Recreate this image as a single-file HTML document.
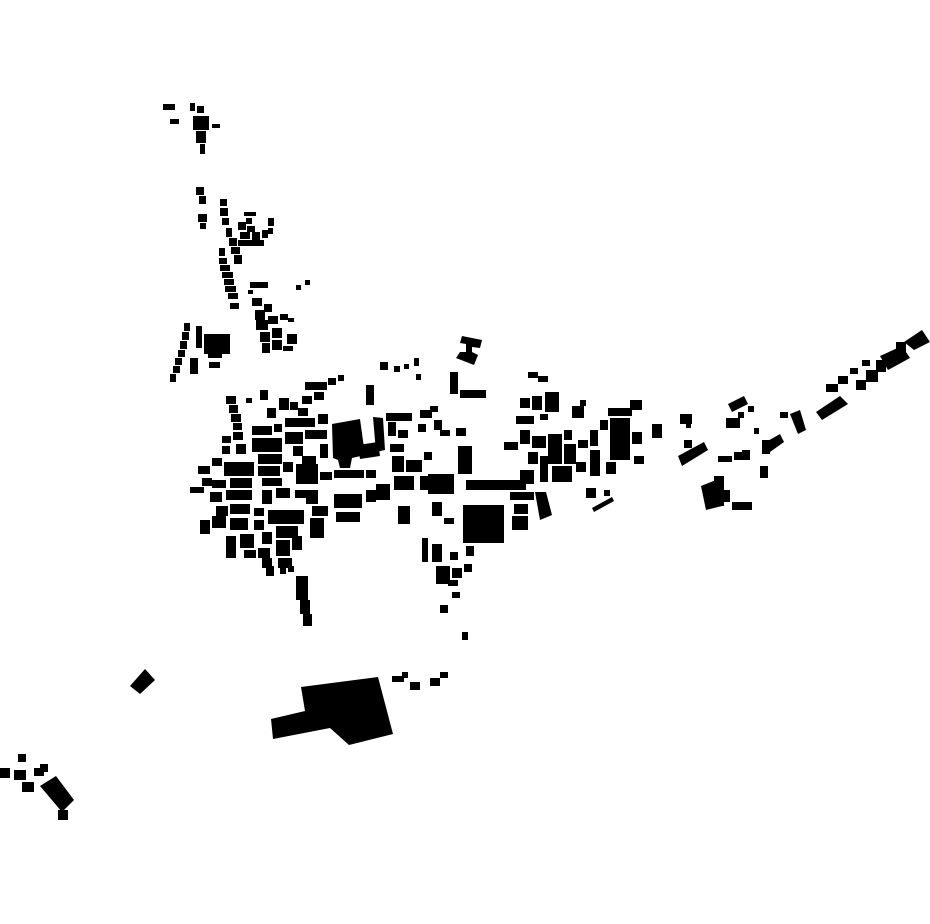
<!DOCTYPE html>
<html><head><meta charset="utf-8"><style>html,body{margin:0;padding:0;background:#fff}svg{display:block}</style></head>
<body>
<svg width="930" height="924" viewBox="0 0 930 924" xmlns="http://www.w3.org/2000/svg">
<g fill="#000">
<!-- big shapes -->
<polygon points="301,687 378,677 393,734 349,745 330,728 273,739 271,719 305,711"/>
<rect x="463" y="505" width="41" height="38"/>
<polygon points="332,424 360,419 365,455 352,458 350,468 340,468 338,460 333,458"/>
<polygon points="358,445 378,442 380,456 360,459"/>
<polygon points="373,417 383,418 385,450 376,452"/>
<polygon points="130,686 145,669 155,680 140,694"/>
<polygon points="701,486 716,480 722,506 706,510"/>
<polygon points="462,336 482,340 480,348 472,347 472,352 478,355 474,365 456,358 460,352 466,352 466,344 460,343"/>
<polygon points="535,492 546,492 552,515 540,520"/>
<polygon points="592,508 612,497 614,501 594,512"/>
<!-- north -->
<rect x="163" y="104" width="12" height="6"/><rect x="170" y="119" width="9" height="5"/>
<rect x="190" y="103" width="5" height="8"/><rect x="197" y="106" width="7" height="7"/>
<rect x="193" y="116" width="16" height="14"/><rect x="196" y="131" width="10" height="12"/>
<rect x="200" y="144" width="5" height="10"/><rect x="212" y="124" width="8" height="4"/>
<!-- north strip -->
<rect x="196" y="187" width="8" height="8"/><rect x="199" y="196" width="7" height="8"/>
<rect x="198" y="214" width="9" height="8"/><rect x="200" y="223" width="6" height="6"/>
<rect x="220" y="199" width="7" height="7"/><rect x="220" y="208" width="8" height="8"/>
<rect x="222" y="218" width="7" height="7"/><rect x="226" y="228" width="6" height="9"/>
<rect x="229" y="238" width="8" height="8"/><rect x="231" y="247" width="9" height="7"/>
<rect x="234" y="255" width="8" height="9"/><rect x="219" y="248" width="6" height="8"/>
<rect x="219" y="258" width="8" height="6"/><rect x="220" y="265" width="10" height="6"/>
<rect x="222" y="272" width="11" height="6"/><rect x="224" y="279" width="10" height="6"/>
<rect x="225" y="286" width="11" height="6"/><rect x="228" y="293" width="10" height="6"/>
<rect x="230" y="303" width="9" height="6"/>
<rect x="238" y="222" width="8" height="8"/><rect x="247" y="226" width="8" height="6"/>
<rect x="240" y="232" width="10" height="7"/><rect x="252" y="232" width="8" height="8"/>
<rect x="238" y="240" width="26" height="6"/><rect x="262" y="230" width="6" height="8"/>
<rect x="268" y="218" width="6" height="8"/><rect x="268" y="228" width="5" height="6"/>
<rect x="244" y="212" width="12" height="4"/><rect x="246" y="218" width="6" height="6"/>
<rect x="250" y="282" width="18" height="6"/><rect x="248" y="290" width="5" height="4"/>
<rect x="296" y="285" width="5" height="5"/><rect x="305" y="280" width="5" height="5"/>
<!-- mid north -->
<rect x="252" y="298" width="10" height="8"/><rect x="264" y="304" width="8" height="8"/>
<rect x="255" y="310" width="10" height="10"/><rect x="256" y="320" width="12" height="10"/>
<rect x="268" y="316" width="10" height="8"/><rect x="280" y="314" width="8" height="6"/>
<rect x="288" y="318" width="6" height="4"/><rect x="260" y="332" width="10" height="10"/>
<rect x="272" y="328" width="10" height="10"/><rect x="262" y="343" width="8" height="10"/>
<rect x="272" y="340" width="10" height="10"/><rect x="287" y="334" width="10" height="10"/>
<rect x="283" y="346" width="10" height="5"/>
<!-- left strip -->
<rect x="184" y="323" width="6" height="8"/><rect x="182" y="332" width="7" height="8"/>
<rect x="180" y="341" width="7" height="8"/><rect x="178" y="350" width="7" height="7"/>
<rect x="175" y="358" width="7" height="7"/><rect x="173" y="366" width="7" height="7"/>
<rect x="170" y="374" width="6" height="8"/><rect x="196" y="326" width="6" height="22"/>
<rect x="190" y="358" width="8" height="16"/><rect x="204" y="334" width="26" height="20"/>
<rect x="208" y="352" width="14" height="6"/><rect x="209" y="362" width="11" height="6"/>
<!-- central town grid -->
<g>
<rect x="226" y="396" width="10" height="8"/><rect x="229" y="405" width="9" height="8"/><rect x="231" y="414" width="10" height="8"/><rect x="233" y="423" width="9" height="7"/>
<rect x="260" y="390" width="8" height="10"/><rect x="246" y="398" width="6" height="5"/>
<rect x="267" y="408" width="9" height="10"/><rect x="279" y="398" width="10" height="12"/><rect x="290" y="402" width="8" height="8"/>
<rect x="305" y="382" width="22" height="8"/><rect x="328" y="378" width="8" height="7"/><rect x="338" y="375" width="6" height="6"/>
<rect x="302" y="396" width="10" height="8"/><rect x="314" y="392" width="10" height="8"/><rect x="298" y="408" width="10" height="8"/>
<rect x="285" y="418" width="30" height="9"/><rect x="318" y="414" width="10" height="10"/>
<rect x="252" y="426" width="20" height="9"/><rect x="274" y="424" width="8" height="8"/>
<rect x="222" y="436" width="9" height="7"/><rect x="233" y="432" width="10" height="8"/>
<rect x="252" y="438" width="30" height="14"/><rect x="285" y="432" width="18" height="12"/>
<rect x="305" y="430" width="22" height="9"/><rect x="222" y="446" width="8" height="8"/>
<rect x="236" y="444" width="10" height="10"/><rect x="293" y="446" width="10" height="10"/>
<rect x="258" y="454" width="24" height="10"/><rect x="302" y="456" width="14" height="10"/>
<rect x="320" y="444" width="8" height="14"/><rect x="212" y="458" width="10" height="8"/>
<rect x="224" y="462" width="30" height="14"/><rect x="258" y="466" width="22" height="10"/>
<rect x="283" y="462" width="10" height="10"/><rect x="296" y="464" width="22" height="20"/>
<rect x="198" y="466" width="12" height="8"/><rect x="202" y="478" width="10" height="8"/>
<rect x="190" y="487" width="14" height="6"/><rect x="212" y="480" width="14" height="8"/>
<rect x="230" y="478" width="22" height="10"/><rect x="262" y="478" width="20" height="8"/>
<rect x="320" y="472" width="12" height="8"/><rect x="334" y="470" width="30" height="8"/>
<rect x="366" y="470" width="10" height="8"/><rect x="210" y="492" width="12" height="10"/>
<rect x="226" y="490" width="26" height="10"/><rect x="262" y="490" width="10" height="14"/>
<rect x="276" y="488" width="14" height="10"/><rect x="295" y="490" width="12" height="8"/>
<rect x="306" y="490" width="12" height="14"/><rect x="334" y="494" width="28" height="14"/>
<rect x="366" y="490" width="10" height="12"/><rect x="376" y="484" width="14" height="16"/>
<rect x="216" y="506" width="12" height="10"/><rect x="230" y="504" width="20" height="10"/>
<rect x="254" y="508" width="10" height="8"/><rect x="268" y="510" width="36" height="14"/>
<rect x="312" y="506" width="16" height="10"/><rect x="200" y="520" width="10" height="14"/>
<rect x="212" y="516" width="14" height="12"/><rect x="230" y="518" width="18" height="12"/>
<rect x="254" y="520" width="10" height="10"/><rect x="276" y="526" width="22" height="12"/>
<rect x="310" y="518" width="14" height="20"/><rect x="336" y="512" width="24" height="10"/>
<rect x="226" y="536" width="10" height="22"/><rect x="240" y="534" width="14" height="14"/>
<rect x="262" y="532" width="10" height="12"/><rect x="276" y="540" width="14" height="16"/>
<rect x="292" y="536" width="10" height="14"/><rect x="244" y="550" width="12" height="8"/>
<rect x="258" y="548" width="12" height="10"/><rect x="262" y="558" width="10" height="10"/>
<rect x="266" y="566" width="8" height="10"/><rect x="278" y="558" width="14" height="10"/>
<rect x="280" y="568" width="6" height="6"/><rect x="288" y="566" width="6" height="6"/>
<rect x="296" y="576" width="12" height="24"/><rect x="300" y="600" width="10" height="14"/><rect x="303" y="614" width="9" height="12"/>
</g>
<!-- center east of town -->
<rect x="366" y="385" width="8" height="20"/><rect x="380" y="362" width="8" height="8"/>
<rect x="394" y="366" width="6" height="6"/><rect x="404" y="364" width="5" height="5"/>
<rect x="414" y="358" width="5" height="8"/><rect x="416" y="374" width="5" height="6"/>
<rect x="386" y="413" width="26" height="8"/><rect x="420" y="410" width="12" height="8"/>
<rect x="430" y="406" width="8" height="6"/><rect x="388" y="422" width="8" height="14"/>
<rect x="398" y="430" width="10" height="8"/><rect x="418" y="424" width="8" height="8"/>
<rect x="434" y="420" width="8" height="10"/><rect x="440" y="430" width="10" height="6"/>
<rect x="456" y="428" width="10" height="8"/><rect x="390" y="444" width="14" height="8"/>
<rect x="392" y="456" width="12" height="16"/><rect x="406" y="460" width="16" height="12"/>
<rect x="424" y="452" width="8" height="8"/><rect x="458" y="446" width="14" height="28"/>
<rect x="394" y="476" width="20" height="14"/><rect x="420" y="476" width="12" height="14"/>
<rect x="428" y="474" width="26" height="20"/><rect x="398" y="506" width="12" height="18"/>
<rect x="432" y="502" width="10" height="14"/><rect x="444" y="518" width="10" height="6"/>
<rect x="466" y="480" width="60" height="10"/><rect x="520" y="470" width="14" height="14"/>
<rect x="510" y="492" width="24" height="8"/><rect x="514" y="504" width="14" height="10"/>
<rect x="512" y="516" width="16" height="14"/><rect x="422" y="538" width="6" height="24"/>
<rect x="432" y="544" width="10" height="18"/><rect x="450" y="552" width="8" height="8"/>
<rect x="466" y="546" width="8" height="10"/><rect x="436" y="566" width="14" height="18"/>
<rect x="452" y="568" width="10" height="10"/><rect x="464" y="564" width="8" height="8"/>
<rect x="448" y="580" width="10" height="6"/><rect x="452" y="592" width="8" height="6"/>
<rect x="440" y="605" width="8" height="8"/><rect x="462" y="632" width="6" height="8"/>
<rect x="450" y="372" width="8" height="22"/><rect x="460" y="390" width="26" height="8"/>
<!-- east cluster -->
<rect x="528" y="372" width="10" height="6"/><rect x="538" y="376" width="10" height="6"/>
<rect x="520" y="398" width="10" height="10"/><rect x="532" y="396" width="10" height="14"/>
<rect x="545" y="392" width="14" height="20"/><rect x="516" y="416" width="18" height="8"/>
<rect x="540" y="414" width="8" height="6"/><rect x="572" y="406" width="12" height="12"/>
<rect x="580" y="400" width="6" height="6"/><rect x="608" y="408" width="24" height="8"/>
<rect x="630" y="400" width="12" height="10"/><rect x="504" y="442" width="14" height="8"/>
<rect x="520" y="430" width="10" height="14"/><rect x="532" y="436" width="14" height="12"/>
<rect x="548" y="434" width="14" height="30"/><rect x="564" y="430" width="8" height="10"/>
<rect x="564" y="444" width="12" height="20"/><rect x="578" y="440" width="10" height="8"/>
<rect x="590" y="430" width="8" height="16"/><rect x="600" y="420" width="8" height="10"/>
<rect x="610" y="418" width="20" height="42"/><rect x="632" y="432" width="10" height="12"/>
<rect x="652" y="424" width="10" height="14"/><rect x="540" y="456" width="8" height="26"/>
<rect x="528" y="452" width="10" height="12"/><rect x="552" y="466" width="20" height="16"/>
<rect x="576" y="462" width="10" height="10"/><rect x="590" y="450" width="10" height="26"/>
<rect x="606" y="462" width="10" height="12"/><rect x="634" y="456" width="10" height="8"/>
<rect x="586" y="488" width="10" height="10"/><rect x="604" y="490" width="6" height="6"/>
<!-- far east -->
<rect x="680" y="414" width="12" height="10"/><rect x="686" y="422" width="5" height="6"/>
<polygon points="678,456 704,442 708,450 682,466"/>
<rect x="684" y="440" width="8" height="8"/><rect x="718" y="456" width="14" height="6"/>
<rect x="734" y="452" width="8" height="8"/><rect x="742" y="450" width="8" height="10"/>
<polygon points="728,404 744,396 748,404 732,412"/><rect x="726" y="418" width="14" height="10"/>
<rect x="738" y="412" width="6" height="6"/><rect x="748" y="406" width="6" height="6"/>
<rect x="754" y="428" width="5" height="6"/><rect x="762" y="440" width="8" height="14"/>
<polygon points="766,442 780,434 784,442 770,452"/><rect x="780" y="412" width="8" height="6"/>
<polygon points="790,414 800,410 806,430 798,434"/><rect x="760" y="466" width="8" height="12"/>
<rect x="714" y="476" width="10" height="30"/><rect x="724" y="490" width="6" height="12"/>
<rect x="732" y="502" width="20" height="8"/>
<polygon points="816,412 840,396 848,404 822,420"/><rect x="826" y="384" width="12" height="8"/>
<rect x="838" y="376" width="10" height="8"/><rect x="856" y="380" width="10" height="10"/>
<rect x="850" y="368" width="8" height="6"/><rect x="866" y="370" width="12" height="12"/>
<rect x="876" y="360" width="10" height="12"/><rect x="862" y="360" width="8" height="6"/>
<polygon points="880,356 902,346 910,358 888,370"/><rect x="896" y="342" width="10" height="10"/>
<polygon points="904,342 922,330 930,342 914,350"/>
<!-- south small -->
<rect x="392" y="676" width="12" height="6"/><rect x="402" y="672" width="6" height="6"/>
<rect x="410" y="682" width="10" height="8"/><rect x="430" y="678" width="10" height="8"/>
<rect x="440" y="672" width="8" height="6"/>
<!-- southwest -->
<rect x="18" y="754" width="8" height="8"/><rect x="0" y="768" width="10" height="10"/>
<rect x="14" y="770" width="12" height="10"/><rect x="22" y="782" width="12" height="10"/>
<rect x="34" y="768" width="10" height="8"/><rect x="40" y="764" width="8" height="8"/>
<polygon points="40,786 56,776 74,800 62,812"/><rect x="58" y="810" width="10" height="10"/>
</g>
</svg>
</body></html>
